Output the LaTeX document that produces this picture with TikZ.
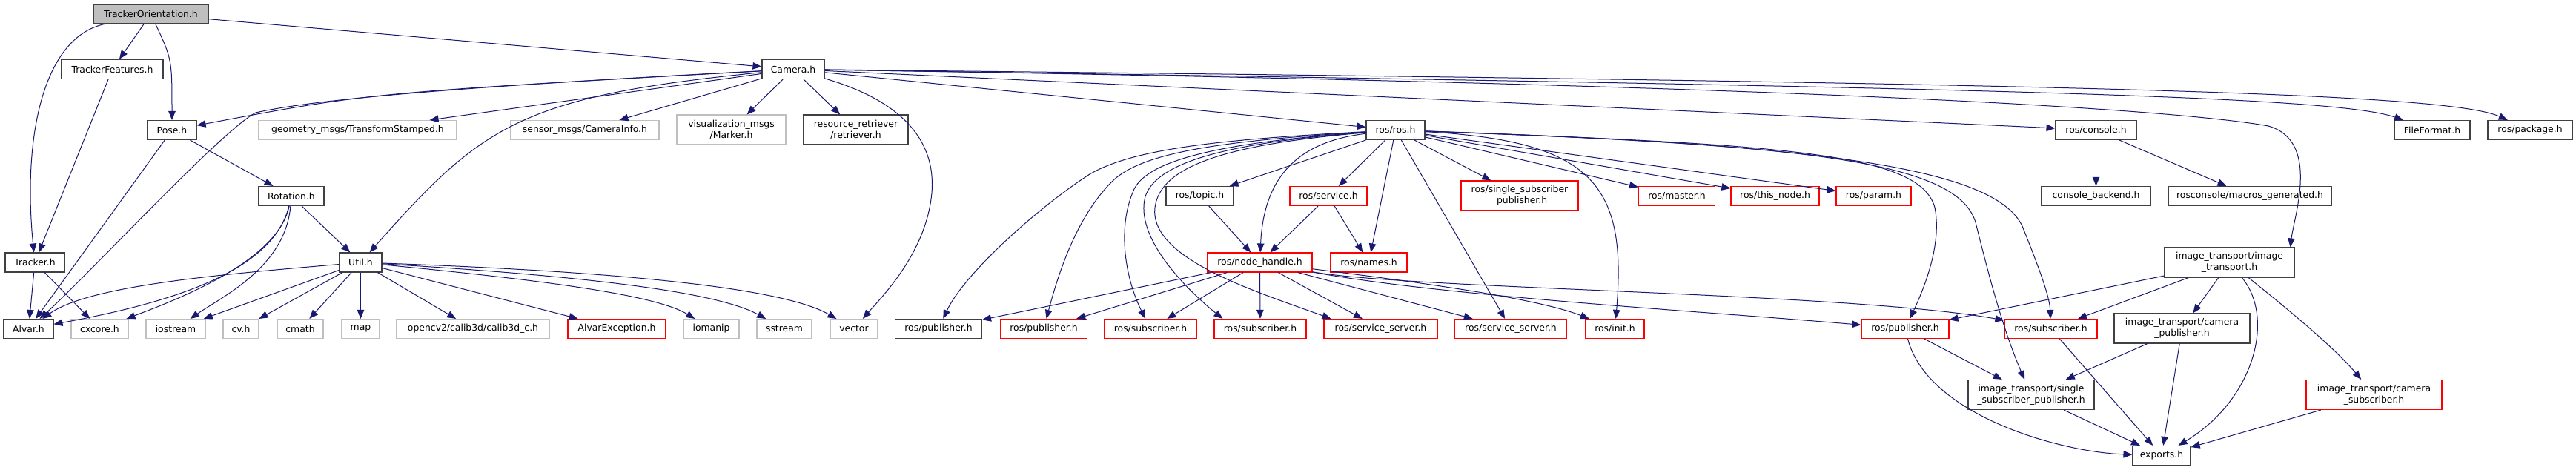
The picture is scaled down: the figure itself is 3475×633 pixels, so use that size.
\documentclass[tikz,border=0pt]{standalone}
\usepackage{fontspec}
\setmainfont{DejaVu Sans}
\usetikzlibrary{arrows.meta}
\definecolor{edgec}{RGB}{25,25,112}
\definecolor{bordk}{RGB}{64,64,64}
\definecolor{bordg}{RGB}{191,191,191}
\definecolor{bordr}{RGB}{255,0,0}
\tikzset{
  nb/.style={draw=bordk, line width=1.1pt, fill=white, rectangle, inner sep=0pt,
    minimum height=26pt, align=center, font=\fontsize{12.4}{15}\selectfont},
  ng/.style={nb, draw=bordg},
  nr/.style={nb, draw=bordr},
  tall/.style={minimum height=40pt},
  e/.style={draw=edgec, line width=1pt, -{Triangle[length=12pt,width=9.5pt]}},
}
\begin{document}
\begin{tikzpicture}[x=1pt,y=-1pt]
\useasboundingbox[fill=white] (0,0) rectangle (3475,633);
% row 0
\node[nb, fill=black!25, minimum width=155pt] (TO) at (203.5,19) {TrackerOrientation.h};
% row 1
\node[nb, minimum width=137pt] (TF) at (151.5,93.5) {TrackerFeatures.h};
\node[nb, minimum width=84pt] (Camera) at (1070,93.5) {Camera.h};
% row 2
\node[nb, minimum width=66pt] (Pose) at (232,175.5) {Pose.h};
\node[ng, minimum width=267pt] (geom) at (482.5,175.5) {geometry\_msgs/TransformStamped.h};
\node[ng, minimum width=200pt] (camInfo) at (789,175.5) {sensor\_msgs/CameraInfo.h};
\node[ng, tall, minimum width=147pt] (marker) at (986.5,175) {visualization\_msgs\\/Marker.h};
\node[nb, tall, minimum width=141pt] (retr) at (1154.5,175) {resource\_retriever\\/retriever.h};
\node[nb, minimum width=79pt] (ros) at (1882.5,175.5) {ros/ros.h};
\node[nb, minimum width=109pt] (console) at (2827.5,175.5) {ros/console.h};
\node[nb, minimum width=102pt] (ff) at (3281,175.5) {FileFormat.h};
\node[nb, minimum width=114pt] (pkg) at (3413,175.5) {ros/package.h};
% row 3
\node[nb, minimum width=88pt] (Rot) at (393,264.5) {Rotation.h};
\node[nb, minimum width=91pt] (topic) at (1618.5,264.5) {ros/topic.h};
\node[nr, minimum width=104pt] (service) at (1792,264.5) {ros/service.h};
\node[nr, tall, minimum width=158pt] (sspros) at (2050,264) {ros/single\_subscriber\\\_publisher.h};
\node[nr, minimum width=103pt] (master) at (2262,264.5) {ros/master.h};
\node[nr, minimum width=119pt] (thisnode) at (2394.5,264.5) {ros/this\_node.h};
\node[nr, minimum width=101pt] (param) at (2527.5,264.5) {ros/param.h};
\node[nb, minimum width=147pt] (cb) at (2827.5,264.5) {console\_backend.h};
\node[nb, minimum width=220pt] (mg) at (3035,264.5) {rosconsole/macros\_generated.h};
% row 4
\node[nb, minimum width=80pt] (Tracker) at (47,354) {Tracker.h};
\node[nb, minimum width=57pt] (Util) at (486.5,354) {Util.h};
\node[nr, minimum width=141pt] (nh) at (1699.5,354) {ros/node\_handle.h};
\node[nr, minimum width=103pt] (names) at (1846.5,354) {ros/names.h};
\node[nb, tall, minimum width=175pt] (it) at (3007.5,354) {image\_transport/image\\\_transport.h};
% row 5
\node[nb, minimum width=67pt] (Alvar) at (38.5,443.5) {Alvar.h};
\node[ng, minimum width=77pt] (cxcore) at (134.5,443.5) {cxcore.h};
\node[ng, minimum width=80pt] (iostream) at (237,443.5) {iostream};
\node[ng, minimum width=48pt] (cv) at (325,443.5) {cv.h};
\node[ng, minimum width=62pt] (cmath) at (405,443.5) {cmath};
\node[ng, minimum width=51pt] (map) at (486.5,443.5) {map};
\node[ng, minimum width=206pt] (ocv) at (638,443.5) {opencv2/calib3d/calib3d\_c.h};
\node[nr, minimum width=132pt] (aexc) at (832,443.5) {AlvarException.h};
\node[ng, minimum width=75pt] (iomanip) at (959.5,443.5) {iomanip};
\node[ng, minimum width=74pt] (sstream) at (1058,443.5) {sstream};
\node[ng, minimum width=63pt] (vector) at (1152,443.5) {vector};
\node[nb, minimum width=117pt] (pubB) at (1266,443.5) {ros/publisher.h};
\node[nr, minimum width=117pt] (pubM) at (1408,443.5) {ros/publisher.h};
\node[nr, minimum width=124pt] (sub1) at (1552,443.5) {ros/subscriber.h};
\node[nr, minimum width=124pt] (sub2) at (1700,443.5) {ros/subscriber.h};
\node[nr, minimum width=153pt] (ss1) at (1862.5,443.5) {ros/service\_server.h};
\node[nr, minimum width=151pt] (ss2) at (2038,443.5) {ros/service\_server.h};
\node[nr, minimum width=79pt] (init) at (2178.5,443.5) {ros/init.h};
\node[nr, minimum width=118pt] (pubR) at (2570,443.5) {ros/publisher.h};
\node[nr, minimum width=125pt] (subR) at (2766.5,443.5) {ros/subscriber.h};
\node[nb, tall, minimum width=183pt] (campub) at (2943.5,443) {image\_transport/camera\\\_publisher.h};
% row 6
\node[nb, tall, minimum width=170pt] (ssp) at (2740,532.5) {image\_transport/single\\\_subscriber\_publisher.h};
\node[nr, tall, minimum width=183pt] (camsub) at (3202.5,532.5) {image\_transport/camera\\\_subscriber.h};
% row 7
\node[nb, minimum width=78pt] (exports) at (2916,614.5) {exports.h};

% ---- edges ----
\draw[e] (TO) -- (TF);
\draw[e] (TO) .. controls (232,80) .. (Pose);
\draw[e] (TO) .. controls (60,50) and (30,180) .. (Tracker);
\draw[e] (TO) -- (Camera);
\draw[e] (TF) -- (Tracker);
\draw[e] (Tracker) -- (Alvar);
\draw[e] (Tracker) -- (cxcore);
\draw[e] (Pose) -- (Alvar);
\draw[e] (Pose) -- (Rot);
% Camera
\draw[e] (Camera) .. controls (500,125) .. (Pose);
\draw[e] (Camera) .. controls (600,118) and (420,135) .. (345,152) .. controls (300,175) and (120,370) .. (Alvar);
\draw[e] (Camera) -- (geom);
\draw[e] (Camera) -- (camInfo);
\draw[e] (Camera) -- (marker);
\draw[e] (Camera) -- (retr);
\draw[e] (Camera) .. controls (1230,140) and (1262,200) .. (1257,260) .. controls (1250,340) and (1190,400) .. (vector);
\draw[e] (Camera) .. controls (700,130) and (650,170) .. (Util);
\draw[e] (Camera) -- (ros);
\draw[e] (Camera) -- (console);
\draw[e] (Camera) .. controls (2500,115) and (2950,150) .. (3060,170) .. controls (3130,190) and (3095,290) .. ([xshift=-6pt]it.north east);
\draw[e] (Camera) .. controls (2700,118) and (3150,130) .. (ff);
\draw[e] (Camera) .. controls (2800,112) and (3300,125) .. (pkg);
% ros
\draw[e] (ros) -- (topic);
\draw[e] (ros) -- (service);
\draw[e] (ros) .. controls (1760,190) and (1705,230) .. (nh);
\draw[e] (ros) -- (names);
\draw[e] (ros) -- (sspros);
\draw[e] (ros) -- (master);
\draw[e] (ros) -- (thisnode);
\draw[e] (ros) -- (param);
\draw[e] (ros) -- (ss2);
\draw[e] (ros) .. controls (2150,190) and (2195,250) .. (init);
\draw[e] (ros) .. controls (1650,188) and (1530,200) .. (1470,235) .. controls (1400,280) and (1300,370) .. (pubB);
\draw[e] (ros) .. controls (1650,190) and (1540,205) .. (1500,245) .. controls (1455,290) and (1430,360) .. (pubM);
\draw[e] (ros) .. controls (1650,192) and (1550,215) .. (1530,255) .. controls (1505,310) and (1520,380) .. (sub1);
\draw[e] (ros) .. controls (1650,193) and (1560,220) .. (1545,265) .. controls (1530,320) and (1600,390) .. ([xshift=12pt]sub2.north west);
\draw[e] (ros) .. controls (1650,195) and (1565,225) .. (1558,280) .. controls (1550,350) and (1700,395) .. ([xshift=10pt]ss1.north west);
\draw[e] (ros) .. controls (2400,195) and (2590,205) .. (2610,280) .. controls (2620,330) and (2595,390) .. (pubR);
\draw[e] (ros) .. controls (2420,195) and (2640,215) .. (2665,300) .. controls (2680,360) and (2700,440) .. (ssp);
\draw[e] (ros) .. controls (2450,195) and (2700,225) .. (2730,310) .. controls (2750,360) and (2765,400) .. (subR);
% service, topic
\draw[e] (service) -- (nh);
\draw[e] (service) -- (names);
\draw[e] (topic) -- (nh);
% node handle
\draw[e] (nh) -- (pubB);
\draw[e] (nh) -- (pubM);
\draw[e] (nh) -- (sub1);
\draw[e] (nh) -- (sub2);
\draw[e] (nh) -- (ss1);
\draw[e] (nh) -- (ss2);
\draw[e] (nh) .. controls (1950,385) and (2080,405) .. (init);
\draw[e] (nh) .. controls (1950,400) and (2300,420) .. (pubR);
\draw[e] (nh) .. controls (1900,390) and (2500,395) .. (subR);
% console
\draw[e] (console) -- (cb);
\draw[e] (console) -- (mg);
% image transport
\draw[e] (it) -- (pubR);
\draw[e] (it) -- (subR);
\draw[e] (it) -- (campub);
\draw[e] (it) .. controls (3090,420) and (3150,470) .. (camsub);
\draw[e] (it) .. controls (3070,430) and (3040,540) .. (exports);
\draw[e] (campub) -- (ssp);
\draw[e] (campub) -- (exports);
\draw[e] (pubR) -- (ssp);
\draw[e] (pubR) .. controls (2600,560) and (2780,610) .. (exports);
\draw[e] (subR) -- (exports);
\draw[e] (ssp) -- (exports);
\draw[e] (camsub) -- (exports);
% Rotation
\draw[e] (Rot) -- (Util);
\draw[e] (Rot) .. controls (370,360) and (250,405) .. (Alvar);
\draw[e] (Rot) .. controls (375,350) and (250,400) .. (cxcore);
\draw[e] (Rot) .. controls (385,360) and (300,400) .. (iostream);
% Util
\draw[e] (Util) .. controls (300,370) and (120,385) .. (Alvar);
\draw[e] (Util) -- (iostream);
\draw[e] (Util) -- (cv);
\draw[e] (Util) -- (cmath);
\draw[e] (Util) -- (map);
\draw[e] (Util) -- (ocv);
\draw[e] (Util) -- (aexc);
\draw[e] (Util) .. controls (700,375) and (880,395) .. (iomanip);
\draw[e] (Util) .. controls (750,370) and (960,390) .. (sstream);
\draw[e] (Util) .. controls (800,365) and (1050,385) .. (vector);
\end{tikzpicture}
\end{document}
